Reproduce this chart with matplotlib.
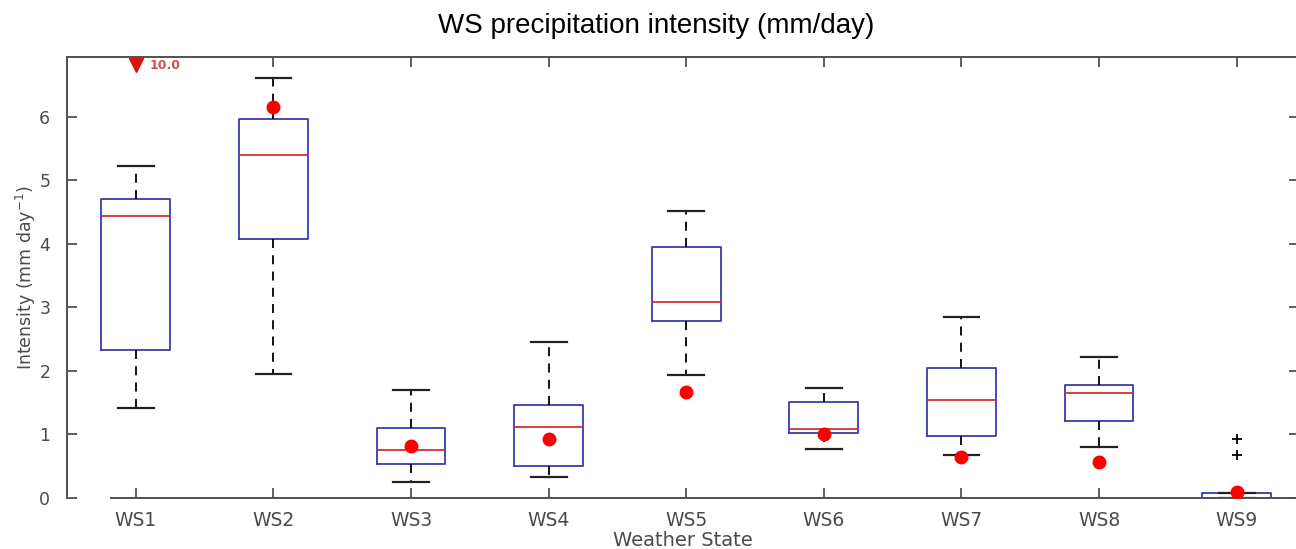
import matplotlib.pyplot as plt
import numpy as np

# box statistics per weather state
states = ['WS1', 'WS2', 'WS3', 'WS4', 'WS5', 'WS6', 'WS7', 'WS8', 'WS9']
whislo = [1.42, 1.95, 0.25, 0.33, 1.94, 0.77, 0.68, 0.80, 0.00]
q1 = [2.33, 4.08, 0.54, 0.50, 2.79, 1.02, 0.98, 1.21, 0.00]
med = [4.43, 5.40, 0.76, 1.12, 3.09, 1.09, 1.54, 1.65, 0.00]
q3 = [4.71, 5.96, 1.10, 1.46, 3.95, 1.51, 2.05, 1.78, 0.08]
whishi = [5.23, 6.61, 1.70, 2.46, 4.52, 1.73, 2.85, 2.22, 0.08]
fliers = [[], [], [], [], [], [], [], [], [0.68, 0.93]]

# red dots (WS1 value is off scale, shown as arrow)
dot_val = [10.0, 6.16, 0.82, 0.93, 1.67, 1.01, 0.65, 0.57, 0.09]

ymax = 6.94
grey = '#505050'

fig = plt.figure(figsize=(12.96, 5.49), dpi=100)
ax = fig.add_axes([67/1296, 51/549, 1 - 67/1296 + 0.002, 441/549])

stats = []
for i in range(len(states)):
    stats.append(dict(whislo=whislo[i], q1=q1[i], med=med[i], q3=q3[i],
                      whishi=whishi[i], fliers=fliers[i], label=states[i]))

pos = np.arange(1, len(states) + 1)
ax.bxp(stats, positions=pos, widths=0.5, showfliers=True,
       boxprops=dict(color='#3a3aaa', linewidth=1.3),
       medianprops=dict(color='#d43030', linewidth=1.3),
       whiskerprops=dict(color='black', linewidth=1.3, linestyle=(0, (5, 4))),
       capprops=dict(color='#222222', linewidth=1.6),
       capwidths=0.26,
       flierprops=dict(marker='+', markeredgecolor='black', markersize=7,
                       markeredgewidth=1.3))

for i, v in enumerate(dot_val):
    if v > ymax:
        ax.plot(pos[i], 6.81, marker='v', color='#e01010', markersize=10,
                linestyle='none', zorder=5)
        ax.text(pos[i] + 0.1, 6.81, '%.1f' % v, color='#d05050', fontsize=9,
                fontweight='bold', va='center', ha='left')
    else:
        ax.plot(pos[i], v, marker='o', color='#ff0000', markersize=9,
                linestyle='none', zorder=5)

ax.set_xlim(0.5, 9.45)
ax.set_ylim(0, ymax)
ax.set_yticks(range(0, 7))
ax.set_xticks(pos)
ax.set_xticklabels(states)

for s in ['left', 'bottom', 'top']:
    ax.spines[s].set_color(grey)
    ax.spines[s].set_linewidth(1.4)
ax.spines['right'].set_visible(False)
ax.spines['bottom'].set_bounds(0.82, 9.45)

ax.tick_params(axis='both', direction='in', length=7, width=1.3, color=grey,
               labelcolor='#4a4a4a')
ax.tick_params(axis='x', top=True, pad=9, labelsize=13.5)
ax.tick_params(axis='y', right=True, pad=12, labelsize=12.5)

ax.set_ylabel('Intensity (mm day$^{-1}$)', color='#4a4a4a', fontsize=12.5,
              labelpad=1)
ax.set_xlabel('Weather State', color='#4a4a4a', fontsize=14, labelpad=1)

fig.text(656/1296, 1 - 26/549, 'WS precipitation intensity (mm/day)',
         ha='center', va='center', fontsize=20,
         family=['Liberation Sans Narrow', 'Liberation Sans', 'DejaVu Sans'])

fig.savefig('out.png', dpi=100)
